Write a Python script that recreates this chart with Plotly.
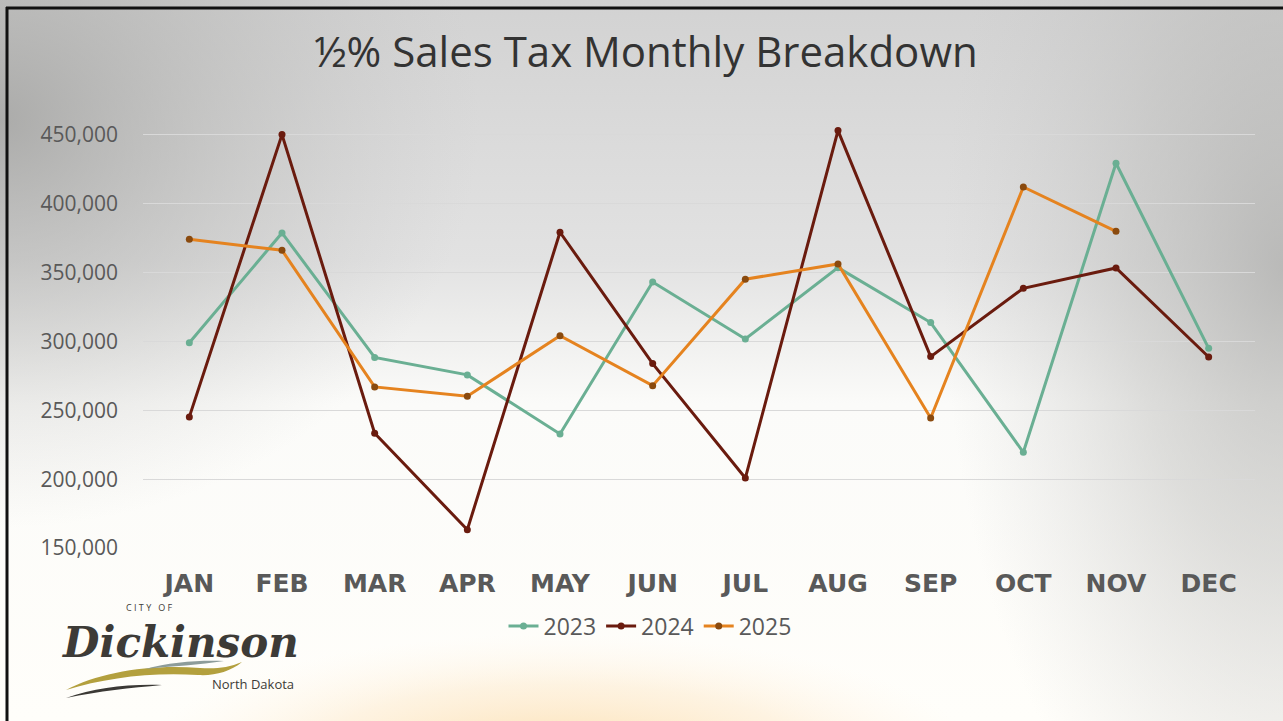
import base64
import plotly.graph_objects as go

months = ["JAN", "FEB", "MAR", "APR", "MAY", "JUN", "JUL", "AUG", "SEP", "OCT", "NOV", "DEC"]
sales_2023 = [299000, 378800, 288400, 275700, 232800, 343200, 301800, 353600, 313700, 219500, 429400, 295000]
sales_2024 = [245200, 450200, 233300, 163300, 379300, 283900, 200800, 453100, 289000, 338600, 353400, 288700]
sales_2025 = [374200, 366200, 267000, 260200, 304200, 267900, 345200, 356300, 244400, 412200, 380000, None]
tick_vals = [150000, 200000, 250000, 300000, 350000, 400000, 450000]
tick_text = ["150,000", "200,000", "250,000", "300,000", "350,000", "400,000", "450,000"]

W, H = 1283, 721

svg = f"""<svg xmlns='http://www.w3.org/2000/svg' width='{W}' height='{H}' viewBox='0 0 {W} {H}'>
<defs>
<linearGradient id='v' x1='0' y1='0' x2='0' y2='{H}' gradientUnits='userSpaceOnUse'>
<stop offset='0' stop-color='#d2d2d2'/>
<stop offset='0.36' stop-color='#e2e2e2'/>
<stop offset='0.56' stop-color='#fbfbf9'/>
<stop offset='1' stop-color='#fffefa'/>
</linearGradient>
<radialGradient id='l' cx='0' cy='120' r='480' gradientUnits='userSpaceOnUse' gradientTransform='translate(0 120) scale(1 0.85) translate(0 -120)'>
<stop offset='0' stop-color='#9c9c9a' stop-opacity='0.75'/>
<stop offset='0.55' stop-color='#b0b0ae' stop-opacity='0.35'/>
<stop offset='1' stop-color='#c0c0c0' stop-opacity='0'/>
</radialGradient>
<radialGradient id='r' cx='1283' cy='270' r='340' gradientUnits='userSpaceOnUse' gradientTransform='translate(1283 270) scale(1 1.9) translate(-1283 -270)'>
<stop offset='0' stop-color='#a8a8a6' stop-opacity='0.7'/>
<stop offset='0.45' stop-color='#b8b8b6' stop-opacity='0.45'/>
<stop offset='1' stop-color='#c8c8c8' stop-opacity='0'/>
</radialGradient>
<radialGradient id='o' cx='560' cy='760' r='420' gradientUnits='userSpaceOnUse' gradientTransform='translate(560 760) scale(1 0.3) translate(-560 -760)'>
<stop offset='0' stop-color='#fbd9a2' stop-opacity='0.9'/>
<stop offset='0.6' stop-color='#fde8c8' stop-opacity='0.5'/>
<stop offset='1' stop-color='#fff5e6' stop-opacity='0'/>
</radialGradient>
</defs>
<rect x='0' y='0' width='{W}' height='{H}' fill='url(#v)'/>
<rect x='0' y='0' width='{W}' height='{H}' fill='url(#l)'/>
<rect x='0' y='0' width='{W}' height='{H}' fill='url(#r)'/>
<rect x='0' y='0' width='{W}' height='{H}' fill='url(#o)'/>
<path d='M66 690 C 100 672, 150 664, 200 668 C 215 669, 228 668, 242 662 C 230 672, 214 676, 198 675 C 150 672, 105 678, 66 690 Z' fill='#b3a03e'/>
<path d='M145 669 C 170 662, 200 660, 224 661 C 200 665, 172 666, 145 669 Z' fill='#8d9c9a'/>
<path d='M66 698 C 95 688, 125 684, 162 685 C 130 688, 100 691, 66 698 Z' fill='#3b3935'/>
</svg>"""
bg_uri = "data:image/svg+xml;base64," + base64.b64encode(svg.encode()).decode()

fig = go.Figure()

fig.add_trace(go.Scatter(
    x=months, y=sales_2023, name="2023", mode="lines+markers",
    line=dict(color="#6aaf93", width=3), marker=dict(color="#6aaf93", size=7),
    cliponaxis=False))
fig.add_trace(go.Scatter(
    x=months, y=sales_2024, name="2024", mode="lines+markers",
    line=dict(color="#6a1b0e", width=3), marker=dict(color="#6a1b0e", size=7),
    cliponaxis=False))
fig.add_trace(go.Scatter(
    x=months, y=sales_2025, name="2025", mode="lines+markers",
    line=dict(color="#e5831f", width=3), marker=dict(color="#8a4a0e", size=7),
    cliponaxis=False))

L, R, T, B = 143, 1255, 128, 548

def px(x):
    return (x - L) / (R - L)

def py(y):
    return (B - y) / (B - T)

fig.update_layout(
    width=W, height=H,
    margin=dict(l=L, r=W - R, t=T, b=H - B, autoexpand=False),
    paper_bgcolor="white", plot_bgcolor="rgba(0,0,0,0)",
    images=[dict(source=bg_uri, xref="paper", yref="paper",
                 x=px(0), y=py(0), sizex=W / (R - L), sizey=H / (B - T),
                 xanchor="left", yanchor="top", sizing="stretch", layer="below")],
    title=dict(text="½% Sales Tax Monthly Breakdown", xref="container", yref="container",
               x=646 / W, y=1 - 52 / H, xanchor="center", yanchor="middle",
               font=dict(family="Open Sans", size=42, color="#333333")),
    showlegend=True,
    legend=dict(orientation="h", xref="container", yref="container",
                x=650 / W, y=1 - 626 / H, xanchor="center", yanchor="middle",
                bgcolor="rgba(0,0,0,0)", font=dict(family="Open Sans", size=23, color="#595959"),
                itemwidth=30, tracegroupgap=0),
    xaxis=dict(range=[-0.5, 11.5], showgrid=False, showline=False, zeroline=False,
               ticks="", ticklabelstandoff=18,
               tickfont=dict(family="DejaVu Sans", size=25, color="#595959", weight="bold")),
    yaxis=dict(range=[150000, 455000], tickvals=tick_vals, ticktext=tick_text,
               showgrid=True, gridcolor="#d9d9d9", gridwidth=1, zeroline=False,
               showline=False, ticks="", ticklabelstandoff=24,
               tickfont=dict(family="Open Sans", size=21, color="#595959")),
    shapes=[
        dict(type="line", xref="paper", yref="paper",
             x0=px(6), x1=px(W), y0=py(8), y1=py(8),
             line=dict(color="#111111", width=3)),
        dict(type="line", xref="paper", yref="paper",
             x0=px(7), x1=px(7), y0=py(7), y1=py(H),
             line=dict(color="#111111", width=3)),
    ],
    annotations=[
        dict(text="C I T Y   O F", xref="paper", yref="paper",
             x=px(149), y=py(607), xanchor="center", yanchor="middle",
             showarrow=False, font=dict(family="Open Sans", size=9, color="#3d3b37")),
        dict(text="<i><b>Dickinson</b></i>", xref="paper", yref="paper",
             x=px(180), y=py(642), xanchor="center", yanchor="middle",
             showarrow=False, font=dict(family="DejaVu Serif", size=42, color="#3d3b37")),
        dict(text="North Dakota", xref="paper", yref="paper",
             x=px(253), y=py(684), xanchor="center", yanchor="middle",
             showarrow=False, font=dict(family="Open Sans", size=13, color="#3d3b37")),
    ],
)

fig.write_html("out.html", config={"displayModeBar": False},
               post_script="document.body.style.margin='0';document.body.style.overflow='hidden';")
